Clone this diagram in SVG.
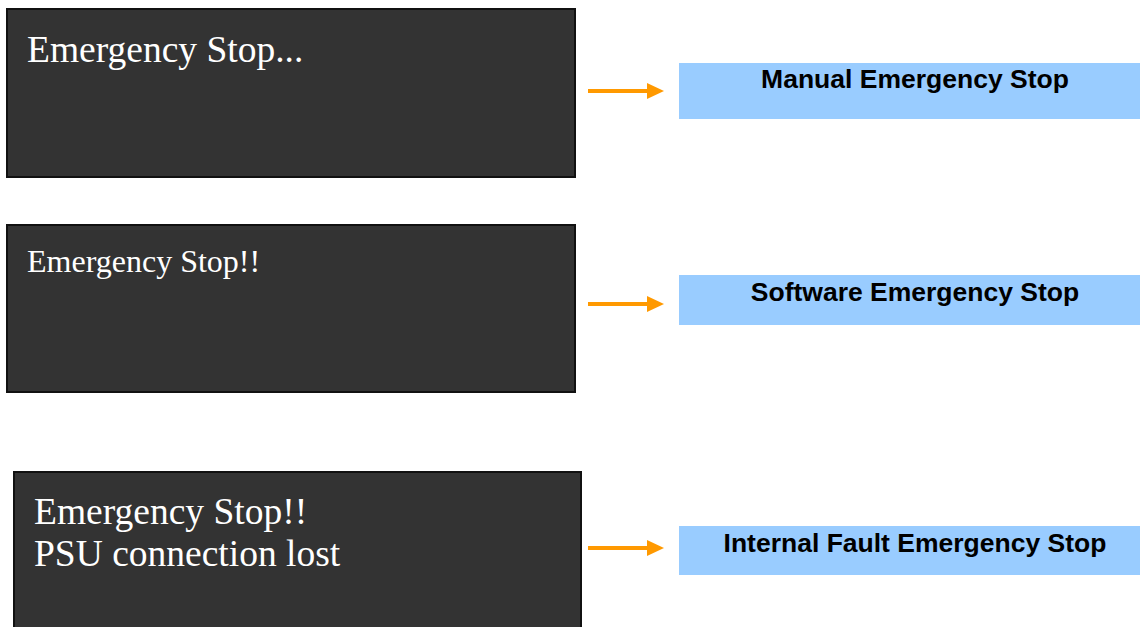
<svg xmlns="http://www.w3.org/2000/svg" width="1140" height="627" viewBox="0 0 1140 627">
<style>
.screen{fill:#333333;stroke:#111111;stroke-width:2}
.scr{font-family:"Liberation Serif","Times New Roman",serif;fill:#ffffff}
.lbl{fill:#99ccff}
.lt{font-family:"Liberation Sans",Arial,sans-serif;font-weight:bold;font-size:26.5px;fill:#000000;text-anchor:middle}
.conn{stroke:#ff9900;stroke-width:4;fill:none}
</style>
<defs>
<marker id="ah" viewBox="0 0 17 17" refX="0" refY="8.5" markerWidth="17" markerHeight="17" markerUnits="userSpaceOnUse" orient="auto">
<path d="M0,0.5 L17,8.5 L0,16.5 Z" fill="#ff9900"/>
</marker>
</defs>
<rect width="1140" height="627" fill="#ffffff"/>
<g id="screen1">
<rect class="screen" x="7" y="9" width="568" height="168"/>
<text class="scr" x="27" y="62" font-size="37.5">Emergency Stop...</text>
</g>
<g id="screen2">
<rect class="screen" x="7" y="225" width="568" height="167"/>
<text class="scr" x="27" y="272" font-size="32">Emergency Stop!!</text>
</g>
<g id="screen3">
<rect class="screen" x="14" y="472" width="567" height="170"/>
<text class="scr" x="34" y="524" font-size="37.5">Emergency Stop!!</text>
<text class="scr" x="34" y="566" font-size="37.5">PSU connection lost</text>
</g>
<g id="label1">
<rect class="lbl" x="679" y="63" width="461" height="56"/>
<text class="lt" x="915" y="88">Manual Emergency Stop</text>
</g>
<g id="label2">
<rect class="lbl" x="679" y="275" width="461" height="50"/>
<text class="lt" x="915" y="301">Software Emergency Stop</text>
</g>
<g id="label3">
<rect class="lbl" x="679" y="526" width="461" height="49"/>
<text class="lt" x="915" y="552">Internal Fault Emergency Stop</text>
</g>
<g id="connectors">
<line class="conn" x1="588" y1="91" x2="647" y2="91" marker-end="url(#ah)"/>
<line class="conn" x1="588" y1="304" x2="647" y2="304" marker-end="url(#ah)"/>
<line class="conn" x1="588" y1="548" x2="647" y2="548" marker-end="url(#ah)"/>
</g>
</svg>
